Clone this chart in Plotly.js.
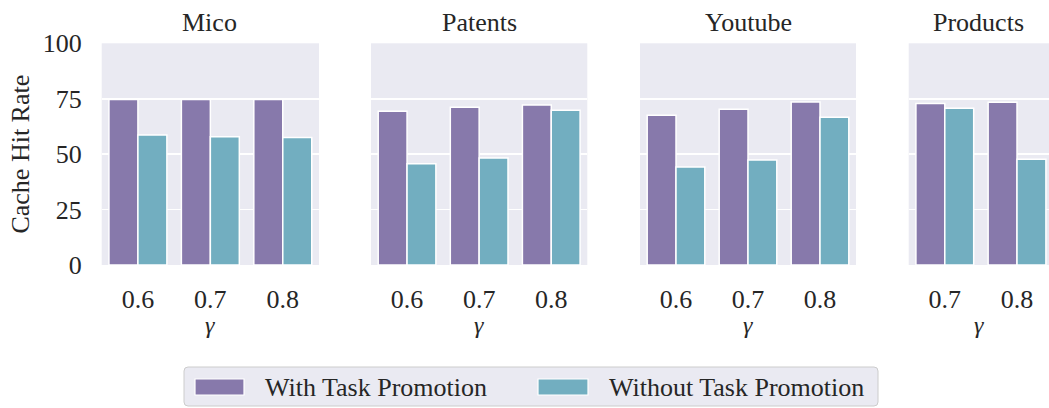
<!DOCTYPE html>
<html>
<head>
<meta charset="utf-8">
<script src="https://cdn.plot.ly/plotly-3.0.1.min.js"></script>
<style>
  html, body { margin: 0; padding: 0; background: #ffffff; }
  #chart { width: 1049px; height: 408px; }
</style>
</head>
<body>
<div id="chart"></div>
<script>
// Cache hit rate per dataset, with and without task promotion, by gamma
const datasets = ['Mico', 'Patents', 'Youtube', 'Products'];
const gammaMico = ['0.6', '0.7', '0.8'];
const gammaPatents = ['0.6', '0.7', '0.8'];
const gammaYoutube = ['0.6', '0.7', '0.8'];
const gammaProducts = ['0.7', '0.8'];

const withMico = [74.6, 74.6, 74.6];
const withoutMico = [58.6, 57.9, 57.5];
const withPatents = [69.3, 71.1, 72.2];
const withoutPatents = [45.7, 48.3, 69.8];
const withYoutube = [67.5, 70.2, 73.5];
const withoutYoutube = [44.2, 47.4, 66.6];
const withProducts = [72.9, 73.4];
const withoutProducts = [70.7, 47.7];

const seriesNames = ['With Task Promotion', 'Without Task Promotion'];
const yTicks = [0, 25, 50, 75, 100];
const xLabel = 'γ';
const yLabel = 'Cache Hit Rate';

const W = 1049, H = 408;
const FONT = "'Liberation Serif', 'Times New Roman', serif";
const INK = '#262626';
const COLORS = ['#8779ab', '#72aec0'];
const BG = '#eaeaf2';
const FS = 26;

// pixel helpers for layout placement
const px = v => v / W;
const py = v => (H - v) / H;

const panels = [
  {name: datasets[0], x: gammaMico, a: withMico, b: withoutMico, dom: [101.7, 319], range: [-0.5, 2.5]},
  {name: datasets[1], x: gammaPatents, a: withPatents, b: withoutPatents, dom: [371, 587.3], range: [-0.5, 2.5]},
  {name: datasets[2], x: gammaYoutube, a: withYoutube, b: withoutYoutube, dom: [640, 856], range: [-0.5, 2.5]},
  {name: datasets[3], x: gammaProducts, a: withProducts, b: withoutProducts, dom: [908.7, 1049], range: [-0.5, 1.443]}
];

const yDom = [py(265), py(43.3)];
const traces = [];
const layout = {
  width: W, height: H,
  margin: {l: 0, r: 0, t: 0, b: 0},
  paper_bgcolor: '#ffffff',
  plot_bgcolor: BG,
  barmode: 'group',
  bargap: 0.2,
  bargroupgap: 0,
  showlegend: false,
  font: {family: FONT, color: INK, size: FS},
  annotations: [],
  shapes: []
};

panels.forEach((p, i) => {
  const n = i === 0 ? '' : String(i + 1);
  const xa = 'x' + n, ya = 'y' + n;
  [p.a, p.b].forEach((vals, k) => {
    traces.push({
      type: 'bar', x: p.x, y: vals, xaxis: xa, yaxis: ya,
      name: seriesNames[k],
      marker: {color: COLORS[k], line: {color: '#ffffff', width: 1.5}},
      hoverinfo: 'x+y+name'
    });
  });
  layout['xaxis' + n] = {
    domain: [px(p.dom[0]), px(p.dom[1])],
    anchor: ya,
    type: 'category',
    range: p.range,
    showgrid: false, zeroline: false, showline: false,
    ticks: '', ticklabelstandoff: 16,
    tickfont: {family: FONT, size: FS, color: INK},
    fixedrange: true
  };
  layout['yaxis' + n] = {
    domain: yDom,
    anchor: xa,
    range: [0, 100],
    tickvals: yTicks,
    showticklabels: i === 0,
    showgrid: true, gridcolor: '#ffffff', gridwidth: 1.6,
    zeroline: false, showline: false,
    ticks: '', ticklabelstandoff: 19,
    tickfont: {family: FONT, size: FS, color: INK},
    title: i === 0 ? {text: yLabel, font: {family: FONT, size: FS, color: INK}, standoff: 5} : {text: ''},
    fixedrange: true
  };
  const cx = px((p.dom[0] + Math.min(p.dom[1], p.dom[0] + 216)) / 2);
  // panel heading
  layout.annotations.push({
    xref: 'paper', yref: 'paper', x: cx, y: py(22),
    xanchor: 'center', yanchor: 'middle',
    text: p.name, showarrow: false,
    font: {family: FONT, size: FS, color: INK}
  });
  // gamma axis label under each panel
  layout.annotations.push({
    xref: 'paper', yref: 'paper', x: cx, y: py(325),
    xanchor: 'center', yanchor: 'middle',
    text: '<i>' + xLabel + '</i>', showarrow: false,
    font: {family: FONT, size: 24, color: INK}
  });
});

// legend box drawn as shapes with text labels
const r = 4, L = 184, R = 878, T = 367, B = 406;
layout.shapes.push({
  type: 'path', xref: 'paper', yref: 'paper',
  path: `M ${px(L + r)},${py(T)} L ${px(R - r)},${py(T)} Q ${px(R)},${py(T)} ${px(R)},${py(T + r)} ` +
        `L ${px(R)},${py(B - r)} Q ${px(R)},${py(B)} ${px(R - r)},${py(B)} L ${px(L + r)},${py(B)} ` +
        `Q ${px(L)},${py(B)} ${px(L)},${py(B - r)} L ${px(L)},${py(T + r)} Q ${px(L)},${py(T)} ${px(L + r)},${py(T)} Z`,
  fillcolor: BG, line: {color: '#cccccc', width: 1}
});
const legendItems = [
  {sw: [195, 244], tx: 263},
  {sw: [538, 588], tx: 607}
];
legendItems.forEach((it, k) => {
  layout.shapes.push({
    type: 'rect', xref: 'paper', yref: 'paper',
    x0: px(it.sw[0]), x1: px(it.sw[1]), y0: py(395), y1: py(379),
    fillcolor: COLORS[k], line: {color: '#ffffff', width: 1.2}
  });
  layout.annotations.push({
    xref: 'paper', yref: 'paper', x: px(it.tx), y: py(387),
    xanchor: 'left', yanchor: 'middle', showarrow: false,
    text: seriesNames[k], font: {family: FONT, size: FS, color: INK}
  });
});

Plotly.newPlot('chart', traces, layout, {displayModeBar: false, staticPlot: true});
</script>
</body>
</html>
